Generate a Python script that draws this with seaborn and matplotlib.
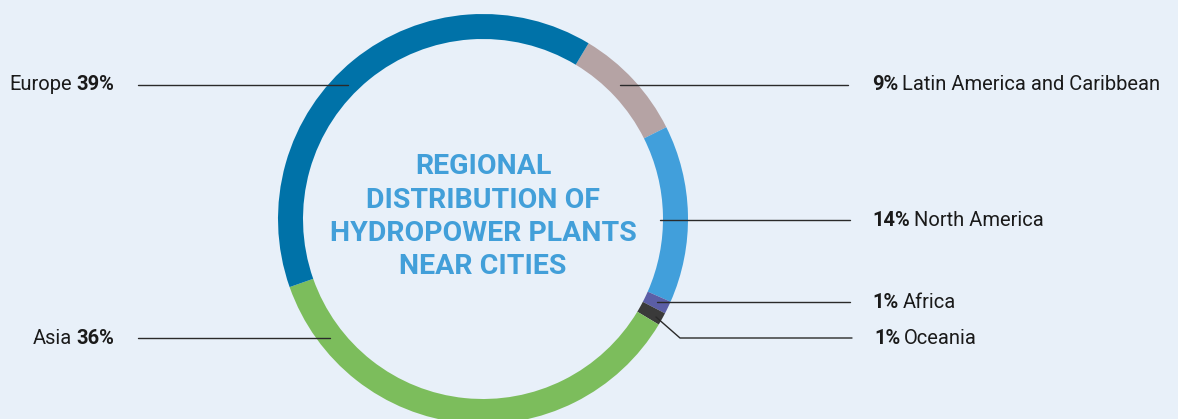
import matplotlib
matplotlib.use("Agg")
import matplotlib.pyplot as plt
import seaborn as sns
import numpy as np

# ---- data ----
regions = ["Latin America and Caribbean", "North America", "Africa", "Oceania", "Asia", "Europe"]
shares = [9, 14, 1, 1, 36, 39]
colors = ["#b5a3a4", "#419fdb", "#5b5ea6", "#3a3a3a", "#7cbd5c", "#0072a8"]
title_lines = ["REGIONAL", "DISTRIBUTION OF", "HYDROPOWER PLANTS", "NEAR CITIES"]

BG = "#e8f0f9"
W, H = 1178, 419
sns.set_theme(style="white")
plt.rcParams['font.family'] = ['Roboto', 'DejaVu Sans']

fig = plt.figure(figsize=(W / 100, H / 100), dpi=100, facecolor=BG)
ax = fig.add_axes([0, 0, 1, 1])
ax.set_facecolor(BG)

cx, cy, R, ring = 483, H - 219, 205, 25
ax.pie(shares, colors=colors, startangle=59, counterclock=False,
       center=(cx, cy), radius=R, frame=True,
       wedgeprops=dict(width=ring, linewidth=0))
ax.set_xlim(0, W)
ax.set_ylim(0, H)
ax.set_aspect("equal")
ax.axis("off")

# title
for i, t in enumerate(title_lines):
    ax.text(cx, H - (167 + i * 33), t, ha="center", va="center",
            fontsize=20.5, fontweight="bold", color="#429fd9")

def Y(p):
    return H - p

line_kw = dict(color="#2a2a2a", lw=1.0)
# leader lines (pixel positions)
ax.plot([138, 348], [Y(85), Y(85)], **line_kw)
ax.plot([620, 848], [Y(85), Y(85)], **line_kw)
ax.plot([660, 850], [Y(220), Y(220)], **line_kw)
ax.plot([657, 850], [Y(302), Y(302)], **line_kw)
ax.plot([656, 680, 852], [Y(317), Y(338), Y(338)], **line_kw)
ax.plot([138, 330], [Y(338), Y(338)], **line_kw)

fig.canvas.draw()
renderer = fig.canvas.get_renderer()
fs = 14.5
tc = "#1a1a1a"

def left_label(x, y, name, pct):
    b = ax.text(x, Y(y), pct, ha="right", va="center", fontsize=fs,
                fontweight="bold", color=tc)
    bb = b.get_window_extent(renderer)
    ax.text(bb.x0 - 4, Y(y), name, ha="right", va="center", fontsize=fs, color=tc)

def right_label(x, y, name, pct):
    b = ax.text(x, Y(y), pct, ha="left", va="center", fontsize=fs,
                fontweight="bold", color=tc)
    bb = b.get_window_extent(renderer)
    ax.text(bb.x1 + 4, Y(y), name, ha="left", va="center", fontsize=fs, color=tc)

pct = {r: f"{s}%" for r, s in zip(regions, shares)}
left_label(114, 85, "Europe", pct["Europe"])
left_label(114, 338, "Asia", pct["Asia"])
right_label(872, 85, "Latin America and Caribbean", pct["Latin America and Caribbean"])
right_label(872, 220, "North America", pct["North America"])
right_label(872, 302, "Africa", pct["Africa"])
right_label(874, 338, "Oceania", pct["Oceania"])

fig.savefig("out.png", dpi=100, facecolor=BG)
